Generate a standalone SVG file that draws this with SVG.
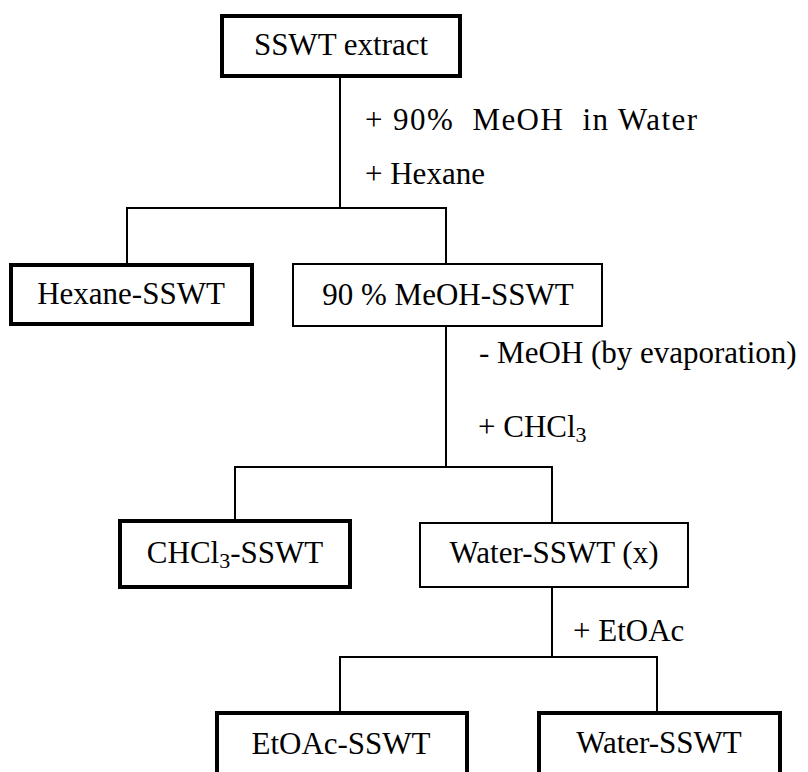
<svg xmlns="http://www.w3.org/2000/svg" width="808" height="772" viewBox="0 0 808 772">
  <style>
    text { font-family: "Liberation Serif", "Times New Roman", serif; font-size: 31px; fill: #000; }
    .c { text-anchor: middle; }
    .box { fill: #fff; stroke: #000; }
    .thick { stroke-width: 4; }
    .thin { stroke-width: 2; }
    .conn line { stroke: #000; stroke-width: 2; }
    .sub { font-size: 22px; }
  </style>
  <rect width="808" height="772" fill="#fff"/>

  <!-- connectors -->
  <g id="connectors" class="conn">
    <line x1="340" y1="78" x2="340" y2="208"/>
    <line x1="127" y1="208" x2="447" y2="208"/>
    <line x1="127" y1="207" x2="127" y2="263"/>
    <line x1="446" y1="207" x2="446" y2="264"/>

    <line x1="446" y1="327" x2="446" y2="467"/>
    <line x1="234" y1="467" x2="553" y2="467"/>
    <line x1="235" y1="466" x2="235" y2="519"/>
    <line x1="552" y1="466" x2="552" y2="523"/>

    <line x1="552" y1="588" x2="552" y2="657"/>
    <line x1="339" y1="657" x2="658" y2="657"/>
    <line x1="340" y1="656" x2="340" y2="711"/>
    <line x1="657" y1="656" x2="657" y2="711"/>
  </g>

  <!-- step labels -->
  <g id="labels">
    <text x="365" y="130" xml:space="preserve" textLength="332" lengthAdjust="spacing">+ 90%  MeOH  in Water</text>
    <text x="365" y="184">+ Hexane</text>
    <text x="479" y="363">- MeOH (by evaporation)</text>
    <text x="478" y="437">+ CHCl<tspan class="sub" dy="5">3</tspan></text>
    <text x="573" y="641">+ EtOAc</text>
  </g>

  <g id="sswt-extract">
    <rect class="box thick" x="222" y="16" width="238" height="60"/>
    <text class="c" x="341" y="55">SSWT extract</text>
  </g>

  <g id="hexane-sswt">
    <rect class="box thick" x="11" y="265" width="241" height="59"/>
    <text class="c" x="131" y="304">Hexane-SSWT</text>
  </g>

  <g id="meoh-sswt">
    <rect class="box thin" x="293" y="264" width="309" height="62"/>
    <text class="c" x="448" y="305" xml:space="preserve">90 % MeOH-SSWT</text>
  </g>

  <g id="chcl3-sswt">
    <rect class="box thick" x="120" y="521" width="230" height="66"/>
    <text class="c" x="235" y="563">CHCl<tspan class="sub" dy="5">3</tspan><tspan dy="-5">-SSWT</tspan></text>
  </g>

  <g id="water-sswt-x">
    <rect class="box thin" x="420" y="523" width="268" height="64"/>
    <text class="c" x="554" y="563">Water-SSWT (x)</text>
  </g>

  <g id="etoac-sswt">
    <rect class="box thick" x="217" y="713" width="250" height="80"/>
    <text class="c" x="341" y="754">EtOAc-SSWT</text>
  </g>

  <g id="water-sswt">
    <rect class="box thick" x="539" y="713" width="241" height="80"/>
    <text class="c" x="659" y="753">Water-SSWT</text>
  </g>
</svg>
